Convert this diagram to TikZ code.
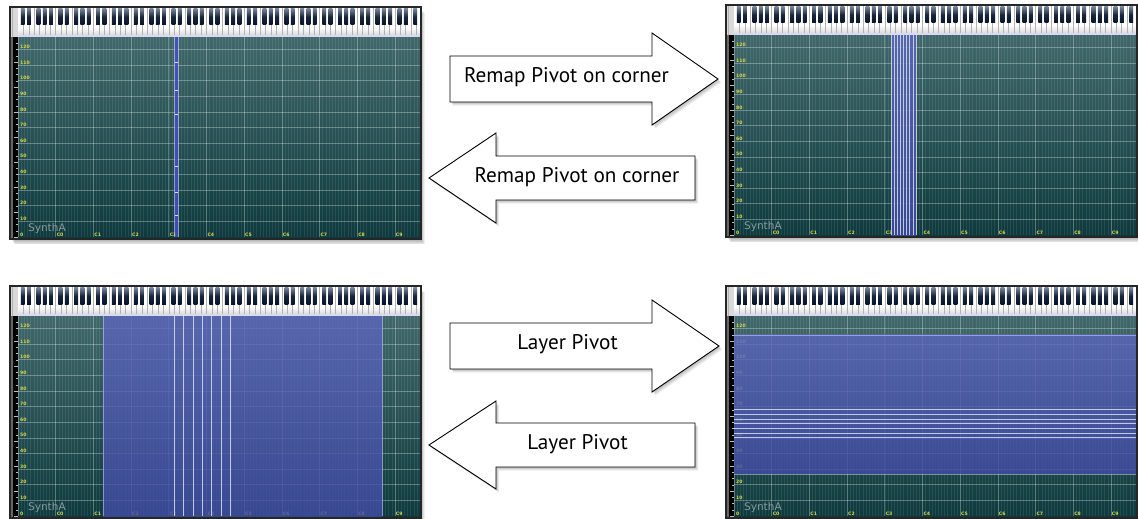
\documentclass[tikz,border=0pt]{standalone}
\usepackage{fontspec}
\setmainfont{PT Sans}
\newfontfamily\smallfont{DejaVu Sans}
\usetikzlibrary{calc}
\definecolor{gridtop}{RGB}{64,104,106}
\definecolor{gridbot}{RGB}{14,58,62}
\definecolor{lab}{RGB}{215,215,70}
\definecolor{bluetop}{RGB}{92,102,188}
\definecolor{bluebot}{RGB}{66,76,166}
\definecolor{keyblack}{RGB}{8,20,42}
\definecolor{keytop}{RGB}{120,135,155}
\definecolor{synth}{RGB}{135,155,160}
\definecolor{hilite}{RGB}{215,222,240}
\tikzset{
  panelshadow/.style={black,opacity=0.06},
  arrowshape/.style={draw=black,line width=0.9pt,fill=white,line join=miter},
  arrowshadow/.style={black,opacity=0.07},
  arrowtext/.style={font=\fontsize{21.2}{24}\selectfont,anchor=base,inner sep=0pt},
  ylab/.style={font=\smallfont\bfseries\fontsize{4.6}{4.6}\selectfont,text=lab,anchor=west,inner sep=0pt},
  xlab/.style={font=\smallfont\bfseries\fontsize{4.6}{4.6}\selectfont,text=lab,anchor=west,inner sep=0pt},
  synthlab/.style={font=\smallfont\fontsize{10.5}{10.5}\selectfont,text=synth,anchor=base west,inner sep=0pt},
  blueover/.style={top color=bluetop,bottom color=bluebot,opacity=0.8},
  hiline/.style={draw=hilite,line width=0.8pt,opacity=0.85},
}
\newcommand\pianoroll[3]{%
\begin{scope}[shift={(#1,#2)}]
 \foreach \i in {1,...,6}{\fill[panelshadow] (1+0.6*\i,1+0.9*\i) rectangle (411+0.6*\i,232+0.9*\i);}
 \fill[black!70] (0,0) rectangle (411,232);
 \shade[top color=gridtop,bottom color=gridbot] (8,30) rectangle (410,230);
 \foreach \n in {0,...,127}{\draw[white,opacity=0.09,line width=0.4pt] ({8+\n*3.140625},30) -- ({8+\n*3.140625},230);}
 \foreach \k in {0,...,10}{\draw[white,opacity=0.25,line width=0.6pt] ({8+\k*37.6875},30) -- ({8+\k*37.6875},230);}
 \foreach \v in {10,20,...,120}{\draw[white,opacity=0.3,line width=0.6pt] (8,{230-\v*1.5625}) -- (410,{230-\v*1.5625});}
 \foreach \v in {0,10,...,120}{\node[ylab] (#3y\v) at (10,{227.4-\v*1.5625}) {\v};}
 \foreach \k in {0,...,9}{\node[xlab] (#3x\k) at ({8+(\k+1)*37.6875+0.9},227.4) {C\k};}
 \node[synthlab] (#3synth) at (18,224.5) {SynthA};
\end{scope}}
\newcommand\keysandframe[2]{%
\begin{scope}[shift={(#1,#2)}]
 \fill[gray!30] (0,0) rectangle (8,30);
 \draw[gray!60,line width=0.5pt] (2,1) -- (2,30);
 \fill[black!60] (0,30) rectangle (3,232);
 \fill[black] (3,30) rectangle (8,231);
 \foreach \v in {0,4,...,127}{\draw[white!75!black,line width=0.4pt] (6.2,{230-\v*1.5625}) -- (8,{230-\v*1.5625});}
 \foreach \v in {0,16,...,127}{\draw[white!75!black,line width=0.4pt] (4.2,{230-\v*1.5625}) -- (8,{230-\v*1.5625});}
 \fill[white] (8,1) rectangle (410,29);
 \shade[top color=white,bottom color=black!14] (8,20) rectangle (410,28);
 \foreach \w in {1,...,74}{\draw[black!30,line width=0.4pt] ({8+\w*5.383929},1) -- ({8+\w*5.383929},28);}
 \foreach \k in {0,...,10}{\foreach \b in {1,3,6,8,10}{%
   \pgfmathtruncatemacro\nn{12*\k+\b}%
   \ifnum\nn<128
     \shade[top color=keytop,bottom color=keyblack,middle color=keyblack!85!keytop] ({8+(\nn+0.5)*3.140625-1.9},1.5) rectangle ({8+(\nn+0.5)*3.140625+1.9},18);
   \fi}}
 \fill[black!25!blue!15!white] (8,27.8) rectangle (410,30);
 \draw[black!85,line width=1.3pt] (0,0) rectangle (411,232);
\end{scope}}
\begin{document}
\begin{tikzpicture}[x=1pt,y=-1pt]
\useasboundingbox (0,0) rectangle (1138,519);
\fill[white] (0,0) rectangle (1138,519);

% ---------- panel 1 (top left) ----------
\pianoroll{10}{7}{pa}
\begin{scope}[shift={(10,7)}]
 \fill[blue!25!bluetop,opacity=0.85] (164.6,30) rectangle (168.4,230);
 \draw[hilite,line width=0.4pt,opacity=0.6] (164.6,30) -- (164.6,230) (168.4,30) -- (168.4,230);
 \foreach \yy in {56,83,107,159,185,208}{\draw[white,opacity=0.8,line width=1pt] (165,\yy) -- (168,\yy);}
\end{scope}
\keysandframe{10}{7}

% ---------- panel 2 (top right) ----------
\pianoroll{726}{5}{pb}
\begin{scope}[shift={(726,5)}]
 \shade[blueover] (165.0,30) rectangle (190.2,230);
 \foreach \n in {50,...,58}{\draw[hiline] ({8+\n*3.140625},30) -- ({8+\n*3.140625},230);}
\end{scope}
\keysandframe{726}{5}

% ---------- panel 3 (bottom left) ----------
\pianoroll{10}{286}{pc}
\begin{scope}[shift={(10,286)}]
 \shade[blueover] (92.8,30) rectangle (372.3,230);
 \draw[hilite,line width=0.5pt,opacity=0.5] (92.8,30) -- (92.8,230) (372.3,30) -- (372.3,230);
 \foreach \n in {50,53,...,68}{\draw[hiline] ({8+(\n-0.3)*3.140625},30) -- ({8+(\n-0.3)*3.140625},230);}
\end{scope}
\keysandframe{10}{286}

% ---------- panel 4 (bottom right) ----------
\pianoroll{726}{286}{pd}
\begin{scope}[shift={(726,286)}]
 \shade[blueover] (8,48.75) rectangle (410,187.8);
 \draw[hilite,line width=0.5pt,opacity=0.5] (8,48.75) -- (410,48.75) (8,187.8) -- (410,187.8);
 \foreach \v in {50,53,...,68}{\draw[hiline] (8,{230-\v*1.5625}) -- (410,{230-\v*1.5625});}
\end{scope}
\keysandframe{726}{286}

% ---------- arrows ----------
\foreach \i in {1,...,4}{
 \fill[arrowshadow] ($(450,56)+(0.8*\i,0.9*\i)$) -- ++(202,0) -- ++(0,-23) -- ++(66,46) -- ++(-66,46) -- ++(0,-23) -- ++(-202,0) -- cycle;
 \fill[arrowshadow] ($(429,178)+(0.8*\i,0.9*\i)$) -- ++(67,-45) -- ++(0,23) -- ++(199,0) -- ++(0,44) -- ++(-199,0) -- ++(0,23) -- cycle;
 \fill[arrowshadow] ($(450,323)+(0.8*\i,0.9*\i)$) -- ++(202,0) -- ++(0,-23) -- ++(67,46) -- ++(-67,46) -- ++(0,-23) -- ++(-202,0) -- cycle;
 \fill[arrowshadow] ($(429,445)+(0.8*\i,0.9*\i)$) -- ++(67,-44) -- ++(0,22) -- ++(199,0) -- ++(0,44) -- ++(-199,0) -- ++(0,22) -- cycle;
}
\draw[arrowshape] (450,56) -- (652,56) -- (652,33) -- (718,79) -- (652,125) -- (652,102) -- (450,102) -- cycle;
\draw[arrowshape] (429,178) -- (496,133) -- (496,156) -- (695,156) -- (695,200) -- (496,200) -- (496,223) -- cycle;
\draw[arrowshape] (450,323) -- (652,323) -- (652,300) -- (719,346) -- (652,392) -- (652,369) -- (450,369) -- cycle;
\draw[arrowshape] (429,445) -- (496,401) -- (496,423) -- (695,423) -- (695,467) -- (496,467) -- (496,489) -- cycle;

\node[arrowtext] (t1) at (566.5,83) {Remap Pivot on corner};
\node[arrowtext] (t2) at (577,182) {Remap Pivot on corner};
\node[arrowtext] (t3) at (567.5,349.5) {Layer Pivot};
\node[arrowtext] (t4) at (577.5,449.5) {Layer Pivot};
\end{tikzpicture}
\end{document}
